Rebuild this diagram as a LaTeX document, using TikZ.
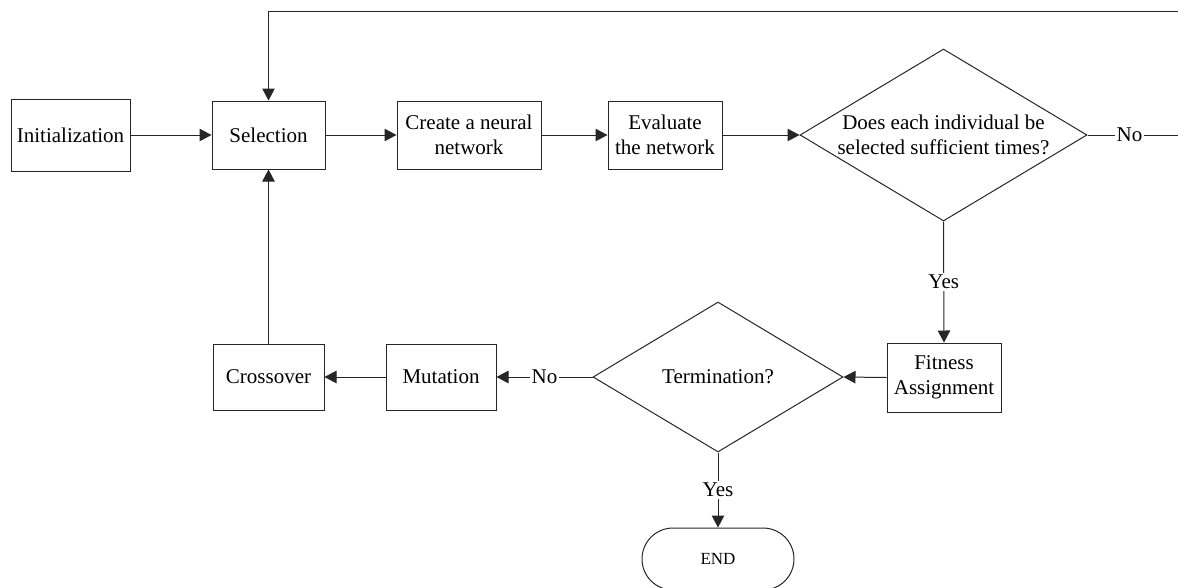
\documentclass[tikz,border=0pt]{standalone}
\usepackage{fontspec}
\setmainfont{Liberation Serif}
\usetikzlibrary{arrows.meta,shapes.geometric,shapes.misc}

\tikzset{
  every picture/.style={x=1pt,y=-1pt},
  stroke/.style={draw=black!85,line width=1pt},
  procbox/.style={stroke,rectangle,inner sep=0pt,align=center,
    font=\fontsize{21}{25}\selectfont},
  decision/.style={stroke,diamond,inner sep=0pt},
  terminal/.style={stroke,rounded rectangle,inner sep=0pt,
    font=\fontsize{17}{20}\selectfont},
  qtext/.style={align=center,inner sep=0pt,font=\fontsize{21}{25}\selectfont},
  flow/.style={draw=black!85,line width=1pt,-{Triangle[length=12pt,width=12.5pt]}},
  lbl/.style={fill=white,inner sep=2pt,font=\fontsize{21}{25}\selectfont}
}

\begin{document}
\begin{tikzpicture}
\useasboundingbox (0,0) rectangle (1178,587);

% upper row
\node[procbox,minimum width=119pt,minimum height=72pt] (init) at (70.5,135) {Initialization};
\node[procbox,minimum width=113pt,minimum height=68pt] (sel)  at (268.5,135) {Selection};
\node[procbox,minimum width=144pt,minimum height=68pt] (cnn)  at (469,135) {Create a neural\\network};
\node[procbox,minimum width=114pt,minimum height=68pt] (eval) at (665,135) {Evaluate\\the network};
\node[decision,minimum width=287pt,minimum height=172pt] (suff) at (943.5,135) {};
\node[qtext] (sufftext) at (suff) {Does each individual be\\selected sufficient times?};

% lower row
\node[procbox,minimum width=114pt,minimum height=69pt] (fit)   at (944,377.5) {Fitness\\Assignment};
\node[decision,minimum width=250pt,minimum height=150pt] (term) at (718,377) {};
\node[qtext] (termtext) at (term) {Termination?};
\node[procbox,minimum width=110pt,minimum height=66pt] (mut)   at (441,377) {Mutation};
\node[procbox,minimum width=111pt,minimum height=66pt] (cross) at (268.5,377) {Crossover};
\node[terminal,minimum width=152pt,minimum height=62pt] (stop) at (718,559) {END};

% loop-back route past the right edge
\coordinate (r1) at (1190,135);
\coordinate (r2) at (1190,11);

% connectors
\draw[flow] (init) -- (sel);
\draw[flow] (sel) -- (cnn);
\draw[flow] (cnn) -- (eval);
\draw[flow] (eval) -- (suff.west);
\draw[flow] (suff.east) -- node[lbl,pos=0.41] {No} (r1) -- (r2) -| (sel.north);
\draw[flow] (suff.south) -- node[lbl] {Yes} (fit.north);
\draw[flow] (fit.west) -- (term.east);
\draw[flow] (term.west) -- node[lbl] {No} (mut.east);
\draw[flow] (mut.west) -- (cross.east);
\draw[flow] (cross.north) -- (sel.south);
\draw[flow] (term.south) -- node[lbl] {Yes} (stop.north);
\end{tikzpicture}
\end{document}
